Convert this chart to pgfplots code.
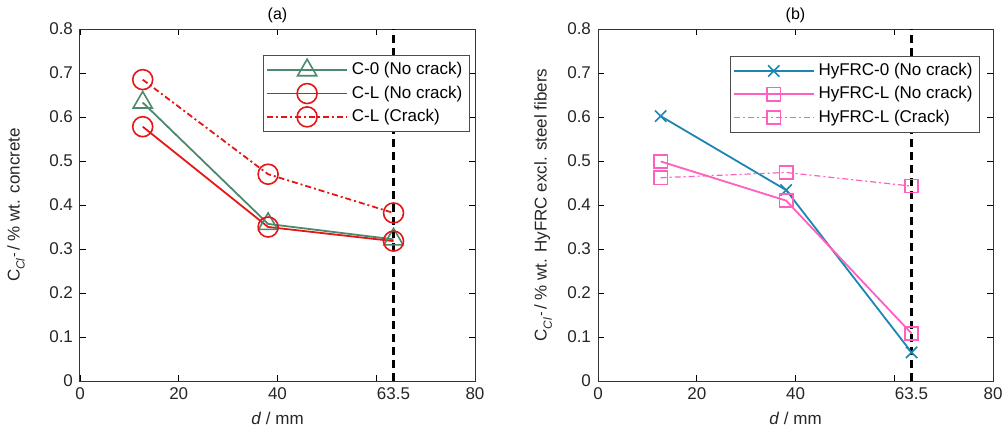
\documentclass[border=0pt]{standalone}
\usepackage{fontspec}
\setmainfont{Liberation Sans}
\usepackage{pgfplots}
\pgfplotsset{compat=1.18}
\definecolor{cgreen}{RGB}{76,138,110}
\definecolor{cred}{RGB}{228,22,22}
\definecolor{cblue}{RGB}{28,134,178}
\definecolor{cpink}{RGB}{255,95,190}
\pgfplotsset{
  panel/.style={
    scale only axis, width=197.5pt, height=176pt,
    xmin=0, xmax=80, ymin=0, ymax=0.8,
    xtick={0,20,40,60,80}, xticklabels={0,20,40,,80},
    extra x ticks={63.5}, extra x tick labels={63.5},
    extra x tick style={major tick length=0pt},
    ytick={0,0.1,...,0.8},
    yticklabel style={/pgf/number format/fixed,/pgf/number format/precision=1},
    /pgf/number format/assume math mode=true,
    tick pos=both, tick align=inside, major tick length=3pt,
    tick style={black, line width=0.4pt},
    axis line style={line width=0.5pt, black!80},
    ticklabel style={font=\fontsize{8.5}{9}\selectfont, black!85},
    label style={font=\fontsize{8.5}{9}\selectfont, black!85},
    title style={font=\fontsize{8}{9}\selectfont, yshift=-6.5pt},
    xlabel={\textit{d} / mm},
    xlabel style={yshift=1pt},
    legend style={font=\fontsize{8.5}{9}\selectfont, draw=black!70, line width=0.5pt,
      inner sep=1.5pt, row sep=0pt, cells={anchor=west}},
    legend image code/.code={
      \draw[mark repeat=2,mark phase=2] plot coordinates {(0cm,0cm) (0.7cm,0cm) (1.4cm,0cm)};},
  },
}
\begin{document}
\begin{tikzpicture}
\useasboundingbox (-40pt,-30pt) rectangle (462.5pt,190.5pt);
\begin{axis}[panel, title={(a)},
  ylabel={C\textsubscript{\textit{Cl}\textsuperscript{\kern0.5pt\raisebox{0.3ex}{\scriptsize-}}}/ \% wt. concrete},
  ylabel style={at={(axis description cs:-0.162,0.5)}, anchor=center},
  legend style={at={(0.987,0.926)}, anchor=north east}]
\addplot[cgreen, line width=0.9pt, mark=triangle, mark size=5.5pt, mark options={solid, line width=0.8pt}]
  coordinates {(12.7,0.633) (38.1,0.357) (63.5,0.322)};
\addlegendentry{C-0 (No crack)}
\addplot[cred, line width=0.9pt, mark=o, mark size=5pt, mark options={solid, line width=0.8pt}]
  coordinates {(12.7,0.578) (38.1,0.350) (63.5,0.318)};
\addlegendentry{C-L (No crack)}
\addplot[cred, line width=0.9pt, dash pattern=on 3pt off 1.5pt on 1pt off 1.5pt, mark=o, mark size=5pt, mark options={solid, line width=0.8pt}]
  coordinates {(12.7,0.685) (38.1,0.470) (63.5,0.382)};
\addlegendentry{C-L (Crack)}
\addplot[black, line width=1.3pt, dash pattern=on 4pt off 2.5pt, forget plot]
  coordinates {(63.5,0) (63.5,0.8)};
\end{axis}
\begin{axis}[panel, at={(259pt,0)}, title={(b)},
  ylabel={C\textsubscript{\textit{Cl}\textsuperscript{\kern0.5pt\raisebox{0.3ex}{\scriptsize-}}}/ \% wt. HyFRC excl. steel fibers},
  ylabel style={at={(axis description cs:-0.139,0.5)}, anchor=center},
  legend style={at={(0.967,0.924)}, anchor=north east}]
\addplot[cblue, line width=0.9pt, mark=x, mark size=4pt, mark options={solid, line width=0.8pt}]
  coordinates {(12.7,0.602) (38.1,0.434) (63.5,0.065)};
\addlegendentry{HyFRC-0 (No crack)}
\addplot[cpink, line width=0.9pt, mark=square, mark size=3.3pt, mark options={solid, line width=0.8pt}]
  coordinates {(12.7,0.499) (38.1,0.410) (63.5,0.108)};
\addlegendentry{HyFRC-L (No crack)}
\addplot[cpink, line width=0.6pt, dash pattern=on 3pt off 1.5pt on 1pt off 1.5pt, mark=square, mark size=3.3pt, mark options={solid, line width=0.8pt}]
  coordinates {(12.7,0.462) (38.1,0.474) (63.5,0.443)};
\addlegendentry{HyFRC-L (Crack)}
\addplot[black, line width=1.3pt, dash pattern=on 4pt off 2.5pt, forget plot]
  coordinates {(63.5,0) (63.5,0.8)};
\end{axis}
\end{tikzpicture}
\end{document}
